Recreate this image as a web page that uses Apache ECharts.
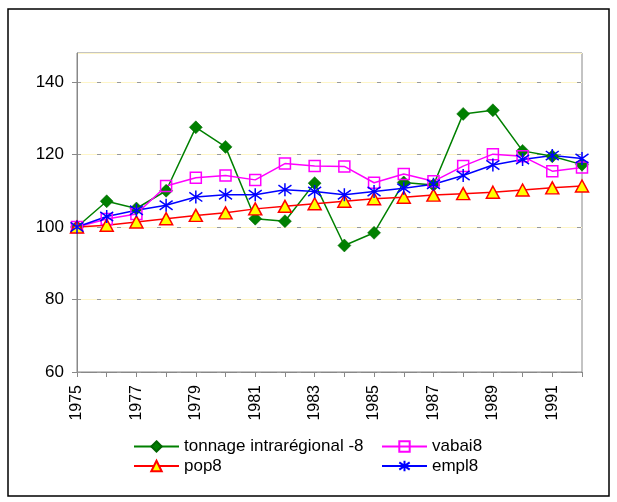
<!DOCTYPE html>
<html>
<head>
<meta charset="utf-8">
<script src="https://cdn.jsdelivr.net/npm/echarts@6/dist/echarts.min.js"></script>
<style>
html,body{margin:0;padding:0;background:#fff;}
#c{width:617px;height:502px;}
</style>
</head>
<body>
<div id="c"></div>
<script>
var years = ['1975','1976','1977','1978','1979','1980','1981','1982','1983','1984','1985','1986','1987','1988','1989','1990','1991','1992'];
var tonnage = [100, 107.1, 105.1, 110, 127.5, 122.1, 102.3, 101.6, 112.1, 94.9, 98.4, 112.3, 111.6, 131.2, 132.2, 121, 119.5, 117.2];
var vabai8 = [100, 102.2, 103.6, 111.3, 113.6, 114.2, 113, 117.5, 116.8, 116.7, 112.2, 114.6, 112.6, 116.8, 120.1, 119.5, 115.4, 116.4];
var pop8 = [100, 100.5, 101.4, 102.3, 103.2, 103.9, 105, 105.7, 106.4, 107.1, 107.8, 108.2, 108.8, 109.2, 109.6, 110.2, 110.8, 111.3];
var empl8 = [100, 102.9, 104.6, 106, 108.3, 108.9, 108.9, 110.3, 109.8, 108.9, 109.8, 110.7, 111.8, 114.2, 117.1, 118.6, 119.7, 118.9];
var yTicks = [60, 80, 100, 120, 140];

var FONT = 'Liberation Sans, Arial, sans-serif';
var starPath = 'path://M0,-6L0,6M-4.24,-4.24L4.24,4.24M-4.24,4.24L4.24,-4.24';

var chart = echarts.init(document.getElementById('c'), null, {renderer: 'canvas'});
var legendText = {fontFamily: FONT, fontSize: 17, color: '#000', lineHeight: 17};
chart.setOption({
  animation: false,
  backgroundColor: '#fff',
  textStyle: {fontFamily: FONT},
  graphic: [{
    type: 'rect', z: -10,
    shape: {x: 8, y: 9, width: 601, height: 487},
    style: {fill: 'none', stroke: '#000', lineWidth: 1.5}
  }],
  grid: {left: 77, right: 35, top: 53, bottom: 130, show: true, borderColor: '#888', borderWidth: 1, backgroundColor: 'transparent'},
  legend: [{
    orient: 'vertical', left: 133, top: 438, padding: 0, itemWidth: 45, itemHeight: 13, itemGap: 2.5,
    textStyle: legendText,
    data: ['tonnage intrarégional -8', 'pop8']
  }, {
    orient: 'vertical', left: 381, top: 438, padding: 0, itemWidth: 45, itemHeight: 13, itemGap: 2.5,
    textStyle: legendText,
    data: ['vabai8', 'empl8']
  }],
  xAxis: {
    type: 'category', data: years, boundaryGap: false,
    axisLine: {lineStyle: {color: '#888', width: 1}},
    axisTick: {show: true, interval: 0, length: 5, lineStyle: {color: '#888'}},
    axisLabel: {interval: 1, rotate: 90, margin: 13, color: '#000', fontSize: 16, fontFamily: FONT},
    splitLine: {show: false}
  },
  yAxis: [{
    type: 'value', min: 60, max: 148, interval: 20,
    axisLine: {show: true, lineStyle: {color: '#888', width: 1}},
    axisTick: {show: true, length: 5, lineStyle: {color: '#888'}, customValues: yTicks},
    axisLabel: {color: '#000', fontSize: 17, fontFamily: FONT, margin: 13, customValues: yTicks,
      formatter: function (v) { return v % 20 === 0 ? String(v) : ''; }},
    splitLine: {show: true, lineStyle: {color: '#999', type: [4, 16], width: 1}},
    z: 1
  }, {
    type: 'value', min: 60, max: 148, interval: 20, position: 'left',
    axisLine: {show: false}, axisTick: {show: false}, axisLabel: {show: false},
    splitLine: {show: true, lineStyle: {color: '#fff6c8', width: 1}},
    z: 0
  }],
  series: [{
    name: 'tonnage intrarégional -8', type: 'line', data: tonnage,
    symbol: 'diamond', symbolSize: [13, 13], showAllSymbol: true,
    lineStyle: {color: '#008000', width: 1.5},
    itemStyle: {color: '#008000', borderColor: '#006400', borderWidth: 0.5}
  }, {
    name: 'vabai8', type: 'line', data: vabai8,
    symbol: 'rect', symbolSize: 11, showAllSymbol: true,
    lineStyle: {color: '#ff00ff', width: 1.5},
    itemStyle: {color: 'rgba(255,255,255,0)', borderColor: '#ff00ff', borderWidth: 1.5}
  }, {
    name: 'pop8', type: 'line', data: pop8,
    symbol: 'triangle', symbolSize: [13, 12], showAllSymbol: true,
    lineStyle: {color: '#ff0000', width: 1.5},
    itemStyle: {color: '#ffff00', borderColor: '#ff0000', borderWidth: 1.5}
  }, {
    name: 'empl8', type: 'line', data: empl8,
    symbol: starPath, symbolSize: 13, showAllSymbol: true,
    lineStyle: {color: '#0000ff', width: 1.5},
    itemStyle: {color: '#0000ff', borderColor: '#0000ff', borderWidth: 1.5}
  }]
});
</script>
</body>
</html>
